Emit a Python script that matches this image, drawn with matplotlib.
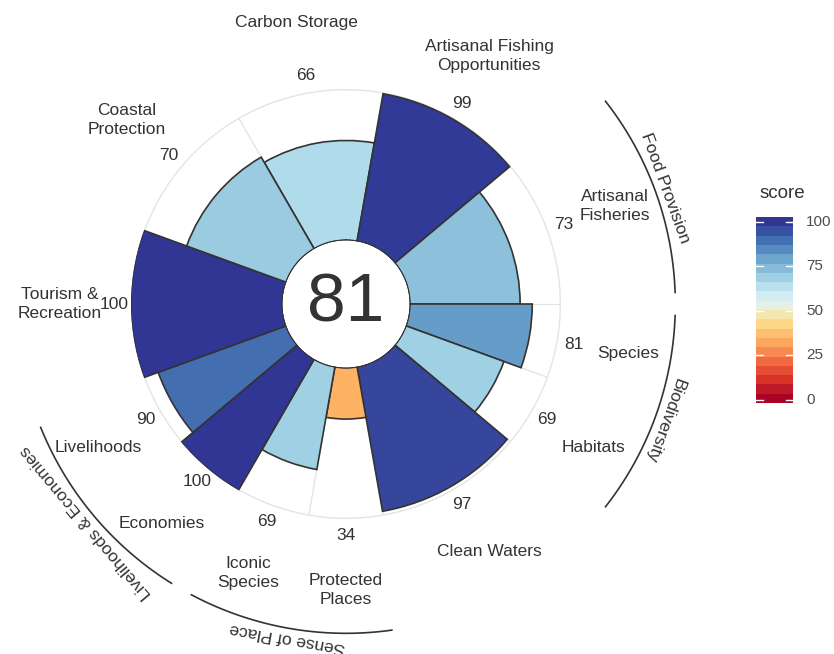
import numpy as np
import matplotlib
matplotlib.use("Agg")
import matplotlib.pyplot as plt
from matplotlib.colors import LinearSegmentedColormap

plt.rcParams['font.family'] = ['Liberation Sans', 'DejaVu Sans']

# ---- data ----
goals = ["Carbon Storage", "Artisanal Fishing\nOpportunities", "Artisanal\nFisheries",
         "Species", "Habitats", "Clean Waters", "Protected\nPlaces", "Iconic\nSpecies",
         "Economies", "Livelihoods", "Tourism &\nRecreation", "Coastal\nProtection"]
scores = [66, 99, 73, 81, 69, 97, 34, 69, 100, 90, 100, 70]
weights = [2, 2, 2, 1, 1, 2, 1, 1, 1, 1, 2, 2]
overall = 81
groups = ["Food Provision", "Biodiversity", "Sense of Place", "Livelihoods & Economies"]
group_members = [[2], [3, 4], [6, 7], [8, 9]]
cbar_ticks = [0, 25, 50, 75, 100]
palette = ["#A50026", "#D73027", "#F46D43", "#FDAE61", "#FEE090",
           "#E0F3F8", "#ABD9E9", "#74ADD1", "#4575B4", "#313695"]

TXT = '#333333'
cmap = LinearSegmentedColormap.from_list('ohi', palette)

fig = plt.figure(figsize=(8.34, 6.54), dpi=100)
ax = fig.add_axes([131/834, 135/654, 430/834, 430/654], projection='polar')
ax.set_theta_zero_location('N')
ax.set_theta_direction(-1)
ax.set_ylim(0, 100)
ax.set_rorigin(-42)
ax.axis('off')

w = np.array(weights) / np.sum(weights) * 2 * np.pi
edges = np.deg2rad(-30) + np.concatenate([[0], np.cumsum(w)])
centers = edges[:-1] + w / 2
colors = cmap(np.array(scores) / 100)

th = np.linspace(0, 2 * np.pi, 600)
for e in edges[:-1]:
    ax.plot([e, e], [0, 100], color='#e2e2e2', lw=0.9, zorder=1)
ax.plot(th, np.full_like(th, 100), color='#e4e4e4', lw=2, zorder=1)
ax.bar(centers, scores, width=w, bottom=0, color=colors, edgecolor='#333333',
       linewidth=1.2, zorder=2, align='center')
ax.plot(th, np.zeros_like(th), color='#333333', lw=1.5, zorder=3)
ax.text(0.5, 0.5, str(overall), transform=ax.transAxes, ha='center', va='center',
        fontsize=50, color=TXT, zorder=4)

for c, s, g in zip(centers, scores, goals):
    ax.text(c, 111, str(s), ha='center', va='center', fontsize=12.5, color=TXT, clip_on=False)
    ax.text(c, 147, g, ha='center', va='center', fontsize=12.5, color=TXT,
            linespacing=1.35, clip_on=False)

for name, mem in zip(groups, group_members):
    a0 = edges[mem[0]] + np.deg2rad(2)
    a1 = edges[mem[-1] + 1] - np.deg2rad(2)
    t = np.linspace(a0, a1, 100)
    ax.plot(t, np.full_like(t, 175.5), color='#333333', lw=1.2, clip_on=False)
    mid = (a0 + a1) / 2
    ax.text(mid, 182, name, ha='center', va='center', fontsize=12.5, color=TXT,
            rotation=-np.rad2deg(mid), rotation_mode='anchor', clip_on=False)

# ---- colorbar ----
cax = fig.add_axes([756/834, (654-403)/654, 37/834, 186/654])
nb = 20
ylo, yhi = -1.7, 102.8
yedges = np.linspace(ylo, yhi, nb + 1)
vals = np.clip((yedges[:-1] + yedges[1:]) / 2, 0, 100).reshape(-1, 1)
cax.pcolormesh([0, 1], yedges, vals, cmap=cmap, vmin=0, vmax=100, shading='flat')
cax.set_xlim(0, 1)
cax.set_ylim(ylo, yhi)
for t in cbar_ticks:
    cax.plot([0, 0.2], [t, t], color='white', lw=1)
    cax.plot([0.8, 1], [t, t], color='white', lw=1)
    cax.text(1.35, t, str(t), ha='left', va='center', fontsize=11, color='#4d4d4d', clip_on=False)
cax.set_xticks([])
cax.set_yticks([])
for sp in cax.spines.values():
    sp.set_visible(False)
fig.text(760/834, 1 - 193/654, 'score', fontsize=13.5, ha='left', va='center', color=TXT)

fig.savefig('out.png', dpi=100)
